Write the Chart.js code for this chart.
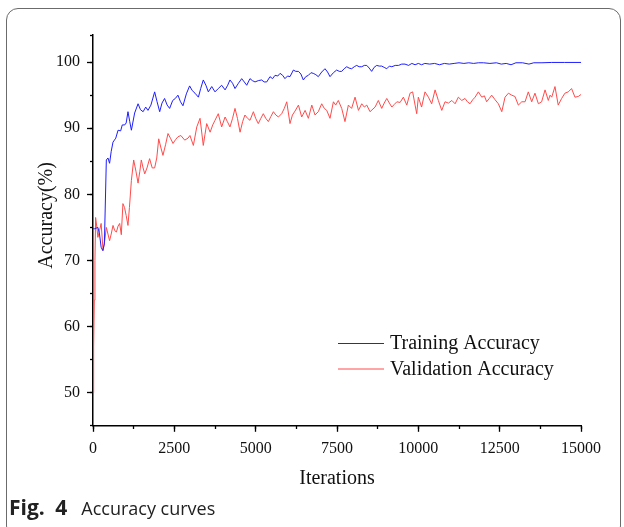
<!DOCTYPE html>
<html><head><meta charset="utf-8">
<script src="https://cdn.jsdelivr.net/npm/chart.js@4.4.0/dist/chart.umd.min.js"></script>
<style>
html,body{margin:0;padding:0;background:#fff;width:624px;height:527px;overflow:hidden;}
#frame{position:absolute;left:6px;top:8px;width:615px;height:530px;border:1px solid #6b6b6b;border-radius:12px;box-sizing:border-box;}
#wrap{position:absolute;left:0;top:0;width:624px;height:527px;}
#cap{position:absolute;left:9px;top:494px;font-family:'Open Sans';font-size:18px;color:#222;white-space:nowrap;line-height:26px;}
#cap b{font-weight:700;font-size:21px;word-spacing:5px;margin-right:14px;}
</style></head><body>
<div id="frame"></div>
<div id="wrap"><canvas id="c" width="624" height="527"></canvas></div>
<div id="cap"><b>Fig. 4</b>Accuracy curves</div>
<script>
const seriesLabels = ['Training Accuracy', 'Validation Accuracy'];
const xTickValues = [0, 2500, 5000, 7500, 10000, 12500, 15000];
const yTickValues = [50, 60, 70, 80, 90, 100];

const trainIter = [0,50,150,200,250,300,350,410,460,510,560,615,700,770,850,900,975,1020,1075,1130,1180,1280,1385,1460,1540,1620,1690,1780,1895,1970,2050,2120,2200,2280,2355,2450,2530,2610,2690,2765,2870,2970,3050,3135,3240,3310,3390,3470,3545,3650,3750,3850,3955,4060,4140,4210,4290,4365,4470,4570,4650,4725,4825,4900,4980,5080,5185,5260,5340,5440,5520,5595,5680,5750,5830,5900,5980,6055,6160,6230,6315,6390,6465,6540,6620,6700,6770,6850,6925,7030,7130,7210,7285,7390,7490,7570,7645,7720,7800,7870,7950,8030,8105,8180,8260,8340,8415,8490,8565,8640,8720,8800,8875,8950,9030,9110,9185,9290,9390,9490,9590,9700,9800,9900,10000,10100,10200,10350,10500,10650,10800,10950,11100,11250,11400,11550,11700,11850,12000,12200,12400,12550,12700,12850,13000,13200,13400,13550,13800,14100,14500,15000];
const trainAcc = [74.8,74.8,75,74,72,71.5,72.5,85.2,85.5,84.7,86.5,87.9,88.5,89.7,89.6,90.5,90.5,90.8,92.5,91,89.7,92.3,93.7,92.8,92.5,93.2,92.7,93.5,95.5,94,92.5,93.8,94.5,93.5,93,94.2,94.5,95,94,93.4,95.2,96.4,95.7,95.3,94.7,96,97.3,96.5,95.5,96.3,95.5,96,96.5,95.8,96.5,97.3,96.8,96,96.8,97.5,97,96.5,97.5,97.2,97,97.2,97.3,97,97,97.8,97.5,98,97.9,98.3,98,97.5,97.9,97.8,98.8,98.6,98.6,98.2,97.3,97.8,98,98.4,98.3,98.1,97.8,98.5,99,98.5,97.8,98.4,98.8,98.6,98.6,99,99.3,99.1,99,99.3,99.5,99.3,99.3,99.5,99.5,99.1,98.6,99.2,99.5,99.4,99.4,99.2,99,99.4,99.3,99.5,99.5,99.7,99.7,99.5,99.8,99.6,99.8,99.6,99.8,99.7,99.8,99.6,99.8,99.7,99.8,99.9,99.8,99.9,99.8,99.9,99.9,99.8,99.9,99.7,99.8,99.6,99.9,99.9,99.7,99.9,99.9,99.95,99.95,99.95];

const valIter = [0,20,40,60,80,120,150,200,250,310,360,410,460,510,560,615,670,720,770,820,870,920,970,1020,1075,1120,1180,1250,1320,1385,1440,1485,1540,1590,1660,1740,1820,1895,1960,2020,2090,2150,2230,2305,2380,2460,2540,2610,2700,2820,2920,2980,3085,3190,3290,3390,3440,3495,3600,3680,3750,3850,3955,4060,4130,4210,4290,4365,4440,4520,4600,4670,4750,4825,4930,5000,5080,5160,5235,5310,5390,5470,5545,5620,5700,5800,5880,5955,6055,6130,6210,6315,6415,6520,6620,6725,6825,6925,7030,7110,7185,7285,7390,7460,7540,7645,7745,7850,7950,8055,8160,8260,8340,8415,8515,8670,8770,8875,8950,9030,9110,9185,9260,9340,9440,9540,9645,9745,9825,9900,9950,10000,10100,10205,10310,10410,10515,10615,10720,10820,10925,11030,11130,11230,11335,11435,11510,11590,11670,11745,11845,11950,12030,12100,12180,12255,12360,12460,12565,12665,12770,12870,12970,13075,13180,13280,13380,13485,13585,13690,13790,13895,13995,14050,14100,14200,14300,14405,14505,14610,14710,14815,14915,15000];
const valAcc = [50,57,64,70,76.5,75,73.5,74.5,75.6,71.5,73,75,74,73,74,75.3,74.5,74.3,75.2,75.6,73.9,78.6,78,76.8,75.3,78,82.1,85.2,83.5,81.7,83.5,85.2,84,83.1,84,85.4,84,84,85.5,88.4,87,85.9,87.5,89.2,88.5,87.7,88.3,88.7,88.9,88.2,88.5,88.9,87.4,90.2,91.5,87.4,89,90.7,89.4,90.5,91.2,92.2,90.2,91.7,91,90.2,91.5,93,91.5,89.4,91,92,91.5,91.2,92.5,91.5,90.7,91.5,92.2,91.5,91,91.8,92.5,92,91.7,92.2,93,94,90.7,92,92.6,93.5,91.7,92.7,91.5,93.5,92,92.5,93.7,93,92.7,91.5,94,93.5,94.2,93,91,93.5,93,94.7,92.7,93.7,93.2,93.5,92.5,93.2,94.2,93,93.8,94.5,93.8,93.2,93.6,94,93.9,94.7,93.5,95.3,95.5,93.5,92.2,94.7,93.2,95.5,94.7,93.7,95.8,94.2,92.7,94,93.8,94.2,93.7,94.7,94.2,94.5,94,93.7,94.3,94.7,95.5,94.7,94.9,94,94.5,95,94.3,93.7,92.5,94.7,95.3,95,94.8,93.5,94,94,95.5,94,95.3,93.7,94,95.8,94.2,95,94.7,96.3,93.5,94.5,95.3,95.5,96,94.7,94.8,95.1];

const toPoints = (xs, ys) => xs.map((x, i) => ({x: x, y: ys[i]}));

const SERIF = '"Liberation Serif", "Times New Roman", serif';

const inlineLegend = {
  id: 'inlineLegend',
  afterDatasetsDraw(chart) {
    const {ctx, chartArea} = chart;
    const x0 = chartArea.left + 245;
    const y0 = chartArea.top + 308;
    chart.data.datasets.forEach((ds, i) => {
      const y = y0 + i * 25.5;
      ctx.save();
      ctx.strokeStyle = ds.borderColor;
      ctx.lineWidth = 1;
      ctx.beginPath();
      ctx.moveTo(x0, y + 0.5);
      ctx.lineTo(x0 + 46, y + 0.5);
      ctx.stroke();
      ctx.fillStyle = '#111';
      ctx.font = '20px ' + SERIF;
      ctx.textBaseline = 'middle';
      ctx.fillText(ds.label, x0 + 52, y + 1);
      ctx.restore();
    });
  }
};

new Chart(document.getElementById('c'), {
  type: 'line',
  data: {
    datasets: [
      {label: seriesLabels[0], data: toPoints(trainIter, trainAcc), borderColor: 'rgb(30,30,255)', borderWidth: 1, pointRadius: 0, tension: 0, fill: false},
      {label: seriesLabels[1], data: toPoints(valIter, valAcc), borderColor: 'rgb(255,75,75)', borderWidth: 1, pointRadius: 0, tension: 0, fill: false}
    ]
  },
  options: {
    responsive: false,
    animation: false,
    devicePixelRatio: 1,
    layout: {padding: {left: 24, right: 43, top: 35, bottom: 36}},
    plugins: {legend: {display: false}, tooltip: {enabled: false}},
    scales: {
      x: {
        type: 'linear', position: 'bottom', min: 0, max: 15000,
        afterBuildTicks: s => { s.ticks = xTickValues.map(v => ({value: v})); },
        ticks: {color: '#111', font: {family: SERIF, size: 16}, padding: 7, maxRotation: 0, autoSkip: false, callback: v => String(v)},
        grid: {drawOnChartArea: false, tickLength: 6, tickColor: '#000', tickWidth: 1.3},
        border: {color: '#000', width: 1.5},
        title: {display: true, text: 'Iterations', color: '#111', font: {family: SERIF, size: 20}, padding: {top: 2, bottom: 0}}
      },
      xMinor: {
        type: 'linear', position: {y: 45}, min: 0, max: 15000,
        ticks: {display: false, stepSize: 1250},
        grid: {drawOnChartArea: false, tickLength: 3, tickColor: '#000', tickWidth: 1.3},
        border: {display: false}
      },
      y: {
        type: 'linear', position: 'left', min: 45, max: 104.1,
        afterBuildTicks: s => { s.ticks = yTickValues.map(v => ({value: v})); },
        afterFit: s => { s.width = 69; },
        ticks: {color: '#111', font: {family: SERIF, size: 16}, padding: 7, callback: v => String(v)},
        grid: {drawOnChartArea: false, tickLength: 6, tickColor: '#000', tickWidth: 1.3},
        border: {color: '#000', width: 1.5},
        title: {display: true, text: '\u00A0\u00A0\u00A0\u00A0\u00A0\u00A0Accuracy(%)', color: '#111', font: {family: SERIF, size: 20}, padding: {top: 11, bottom: 0}}
      },
      yMinor: {
        type: 'linear', position: {x: 0}, min: 45, max: 104.1,
        ticks: {display: false, stepSize: 5},
        grid: {drawOnChartArea: false, tickLength: 3, tickColor: '#000', tickWidth: 1.3},
        border: {display: false}
      }
    }
  },
  plugins: [inlineLegend]
});
</script>
</body></html>
